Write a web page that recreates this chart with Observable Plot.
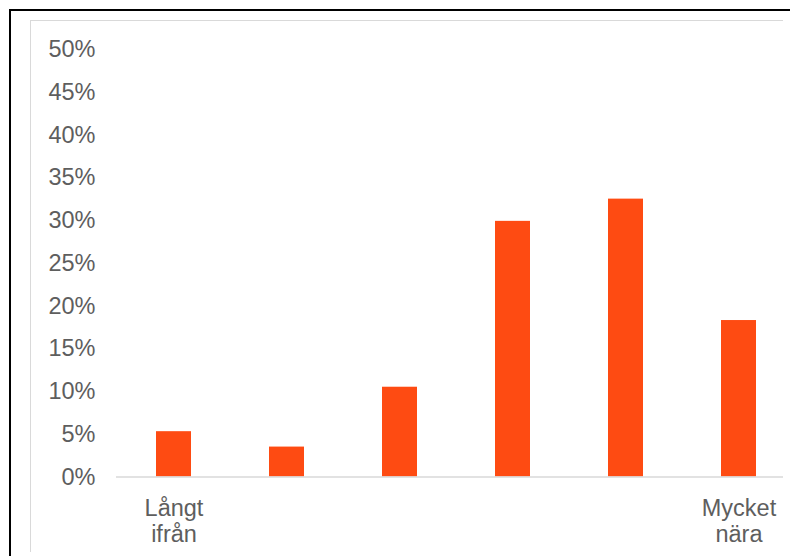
<!DOCTYPE html>
<html><head><meta charset="utf-8">
<script src="https://cdn.jsdelivr.net/npm/d3@7"></script>
<script src="https://cdn.jsdelivr.net/npm/@observablehq/plot@0.6"></script>
<style>
html,body{margin:0;padding:0;background:#fff;overflow:hidden}
#wrap{position:relative;width:790px;height:556px;overflow:hidden}
.outer{position:absolute;left:9px;top:9px;width:800px;height:600px;border-left:2.5px solid #000;border-top:2.5px solid #000;box-sizing:border-box}
.inner{position:absolute;left:30px;top:20px;width:753px;height:532px;border-left:1.5px solid #d9d9d9;border-top:1.5px solid #d9d9d9;box-sizing:border-box}
#chart{position:absolute;left:0;top:0}
</style></head>
<body>
<div id="wrap"><div class="outer"></div><div class="inner"></div><div id="chart"></div></div>
<script>
const categories = ["1", "2", "3", "4", "5", "6"];
const values = [0.053, 0.035, 0.105, 0.299, 0.325, 0.183];
const tickLabels = ["Långt\nifrån", "", "", "", "", "Mycket\nnära"];
const yTicks = [0, 0.05, 0.10, 0.15, 0.20, 0.25, 0.30, 0.35, 0.40, 0.45, 0.50];

const data = categories.map((c, i) => ({cat: c, value: values[i]}));
const labelOf = new Map(categories.map((c, i) => [c, tickLabels[i]]));

const chart = Plot.plot({
  width: 790,
  height: 556,
  marginLeft: 116,
  marginRight: 7,
  marginTop: 20,
  marginBottom: 79,
  style: {fontFamily: "'Liberation Sans', Arial, sans-serif", fontSize: "23.5px", color: "#595959", background: "transparent", overflow: "visible"},
  x: {type: "band", domain: categories, range: [116.3, 796], paddingInner: 0.686, paddingOuter: 0.343, align: 0.5},
  y: {domain: [0, 0.5], range: [476.5, 49]},
  marks: [
    Plot.barY(data, {x: "cat", y: "value", fill: "#fe4b12"}),
    Plot.ruleY([0], {stroke: "#d9d9d9", strokeWidth: 1.5}),
    Plot.axisY({ticks: yTicks, tickSize: 0, tickPadding: 21, tickFormat: d => Math.round(d * 100) + "%", fill: "#5e5e5e", fontSize: 23.5, label: null}),
    Plot.axisX({tickSize: 0, tickPadding: 19.5, tickFormat: d => labelOf.get(d), fill: "#5e5e5e", fontSize: 23.5, lineHeight: 1.13, label: null})
  ]
});
document.getElementById("chart").appendChild(chart);
</script>
</body></html>
